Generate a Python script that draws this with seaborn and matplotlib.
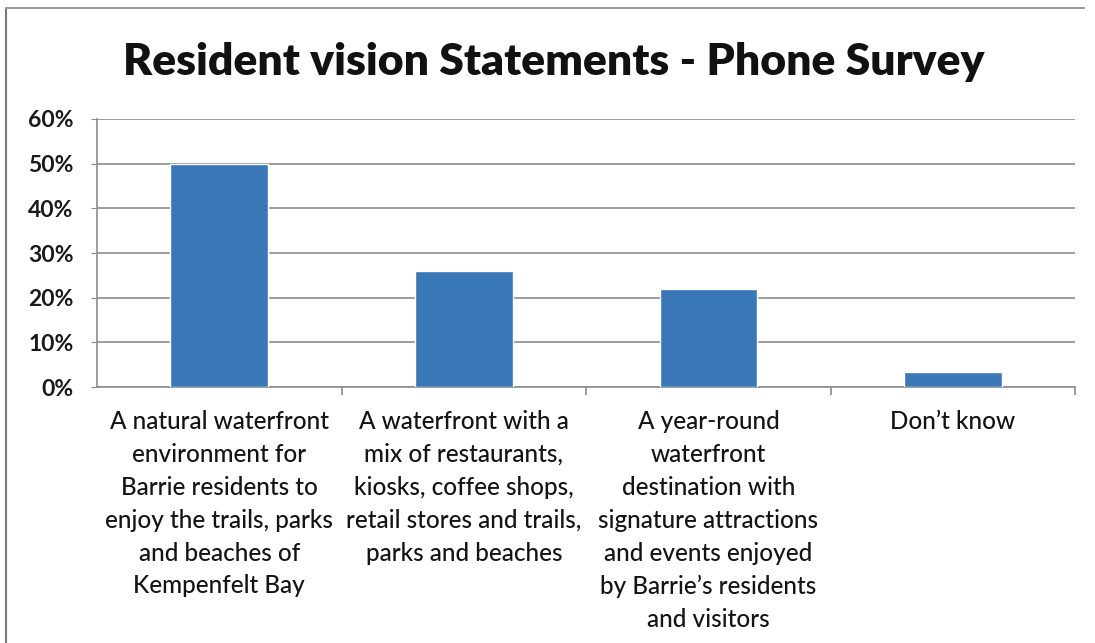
import matplotlib
matplotlib.use("Agg")
import matplotlib.pyplot as plt
from matplotlib.lines import Line2D
from matplotlib.ticker import PercentFormatter, FixedLocator
import seaborn as sns
import pandas as pd

categories = [
    "A natural waterfront\nenvironment for\nBarrie residents to\nenjoy the trails, parks\nand beaches of\nKempenfelt Bay",
    "A waterfront with a\nmix of restaurants,\nkiosks, coffee shops,\nretail stores and trails,\nparks and beaches",
    "A year-round\nwaterfront\ndestination with\nsignature attractions\nand events enjoyed\nby Barrie\u2019s residents\nand visitors",
    "Don\u2019t know",
]
shares = [50, 26, 22, 3.4]
y_ticks = [0, 10, 20, 30, 40, 50, 60]

sns.set_style("white")
plt.rcParams["font.family"] = ["Lato", "DejaVu Sans"]

df = pd.DataFrame({"statement": categories, "share": shares})

fig = plt.figure(figsize=(10.95, 6.43), dpi=100)
ax = fig.add_axes([0.0886, 0.398, 0.8934, 0.417])

sns.barplot(data=df, x="statement", y="share", color="#3A77B6",
            saturation=1, width=0.4, ax=ax, zorder=3)

ax.set_ylim(0, 60)
ax.set_xlim(-0.5, len(categories) - 0.5)
ax.yaxis.set_major_locator(FixedLocator(y_ticks))
ax.yaxis.set_major_formatter(PercentFormatter(decimals=0))
ax.grid(axis="y", color="#8c8c8c", linewidth=1.2, zorder=0)
ax.set_axisbelow(True)

for side in ("top", "right"):
    ax.spines[side].set_visible(False)
for side in ("left", "bottom"):
    ax.spines[side].set_color("#8c8c8c")
    ax.spines[side].set_linewidth(1.2)

ax.tick_params(axis="y", which="major", left=True, length=4, color="#8c8c8c",
               labelsize=16.5, labelcolor="#1a1a1a", pad=13)
for lbl in ax.get_yticklabels():
    lbl.set_fontweight("bold")

# category labels centred under each bar; tick marks sit between categories
ax.set_xticks(range(len(categories)))
ax.set_xticklabels(categories, fontsize=17.5, color="#141414", linespacing=1.52,
                   va="top", fontweight="medium")
ax.tick_params(axis="x", which="major", bottom=False, pad=13)
ax.set_xticks([i + 0.5 for i in range(len(categories))], minor=True)
ax.tick_params(axis="x", which="minor", bottom=True, length=6, color="#8c8c8c",
               width=1.2)
ax.set_xlabel("")
ax.set_ylabel("")

fig.text(0.506, 0.903, "Resident vision Statements - Phone Survey",
         ha="center", va="center", fontsize=32, fontweight="heavy",
         color="#111111")

# chart frame
fig.add_artist(Line2D([0.0055, 0.0055], [0.0, 0.988], transform=fig.transFigure,
                      color="#7a7a7a", linewidth=1.5))
fig.add_artist(Line2D([0.0055, 0.99], [0.988, 0.988], transform=fig.transFigure,
                      color="#9a9a9a", linewidth=1.5))

fig.savefig("out.png", dpi=100)
